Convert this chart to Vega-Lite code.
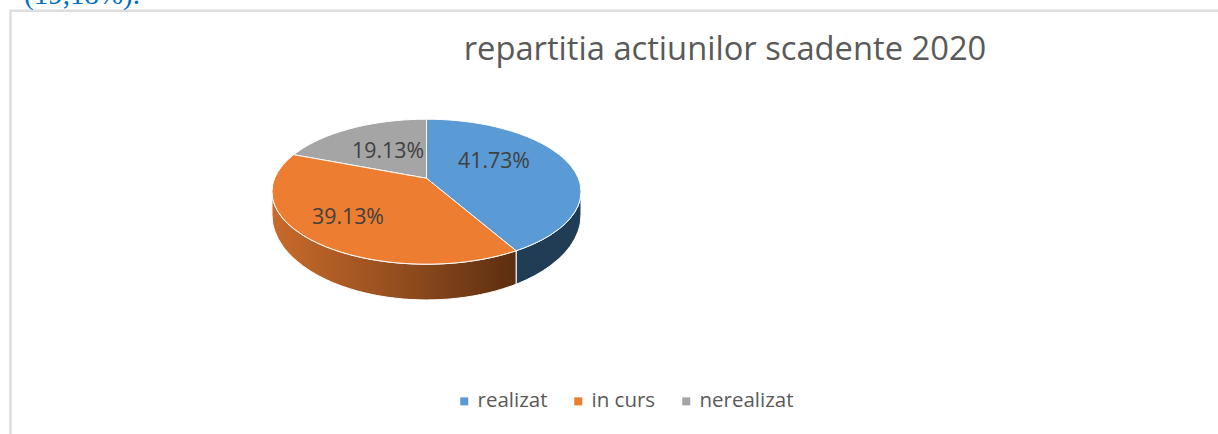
{"$schema":"https://vega.github.io/schema/vega-lite/v6.json","width":1218,"height":434,"padding":0,"autosize":"none","background":"white","config":{"view":{"stroke":null},"font":"Open Sans"},"layer":[
{"data":{"values":[{"a":-2.693,"a2":5.4,"b":2.497,"b2":-3.6}]},"mark":{"type":"rect","fill":null,"stroke":"#dedede","strokeWidth":2.5},"encoding":{"x":{"field":"a","type":"quantitative","scale":{"domain":[-2.7605,5.123],"nice":false,"zero":false},"axis":null},"x2":{"field":"a2"},"y":{"field":"b","type":"quantitative","scale":{"domain":[-3.342,2.644],"nice":false,"zero":false},"axis":null},"y2":{"field":"b2"}}},
{"data":{"values":[{"x":0.58,"t":-0.8146,"b":-1.276},{"x":0.6,"t":-0.8,"b":-1.259},{"x":0.65,"t":-0.7599,"b":-1.212},{"x":0.7,"t":-0.7141,"b":-1.158},{"x":0.75,"t":-0.6614,"b":-1.096},{"x":0.8,"t":-0.6,"b":-1.024},{"x":0.86,"t":-0.5103,"b":-0.919},{"x":0.9,"t":-0.4359,"b":-0.832},{"x":0.93,"t":-0.3676,"b":-0.752},{"x":0.96,"t":-0.28,"b":-0.649},{"x":0.98,"t":-0.199,"b":-0.554},{"x":0.99,"t":-0.1411,"b":-0.486},{"x":0.995,"t":-0.0999,"b":-0.438},{"x":1,"t":0,"b":-0.321}]},"mark":{"type":"area","orient":"vertical","color":"#213d56","stroke":"white","strokeWidth":1},"encoding":{"x":{"field":"x","type":"quantitative"},"y":{"field":"t","type":"quantitative"},"y2":{"field":"b"}}},
{"data":{"values":[{"x":-1,"t":0,"b":-0.321},{"x":-0.995,"t":-0.0999,"b":-0.438},{"x":-0.99,"t":-0.1411,"b":-0.486},{"x":-0.98,"t":-0.199,"b":-0.554},{"x":-0.96,"t":-0.28,"b":-0.649},{"x":-0.93,"t":-0.3676,"b":-0.752},{"x":-0.9,"t":-0.4359,"b":-0.832},{"x":-0.86,"t":-0.5103,"b":-0.919},{"x":-0.8,"t":-0.6,"b":-1.024},{"x":-0.75,"t":-0.6614,"b":-1.096},{"x":-0.7,"t":-0.7141,"b":-1.158},{"x":-0.65,"t":-0.7599,"b":-1.212},{"x":-0.6,"t":-0.8,"b":-1.259},{"x":-0.55,"t":-0.8352,"b":-1.3},{"x":-0.5,"t":-0.866,"b":-1.336},{"x":-0.45,"t":-0.893,"b":-1.368},{"x":-0.4,"t":-0.9165,"b":-1.395},{"x":-0.35,"t":-0.9367,"b":-1.419},{"x":-0.3,"t":-0.9539,"b":-1.439},{"x":-0.25,"t":-0.9682,"b":-1.456},{"x":-0.2,"t":-0.9798,"b":-1.469},{"x":-0.15,"t":-0.9887,"b":-1.48},{"x":-0.1,"t":-0.995,"b":-1.487},{"x":-0.05,"t":-0.9987,"b":-1.491},{"x":0,"t":-1,"b":-1.493},{"x":0.05,"t":-0.9987,"b":-1.491},{"x":0.1,"t":-0.995,"b":-1.487},{"x":0.15,"t":-0.9887,"b":-1.48},{"x":0.2,"t":-0.9798,"b":-1.469},{"x":0.25,"t":-0.9682,"b":-1.456},{"x":0.3,"t":-0.9539,"b":-1.439},{"x":0.35,"t":-0.9367,"b":-1.419},{"x":0.4,"t":-0.9165,"b":-1.395},{"x":0.45,"t":-0.893,"b":-1.368},{"x":0.5,"t":-0.866,"b":-1.336},{"x":0.55,"t":-0.8352,"b":-1.3},{"x":0.58,"t":-0.8146,"b":-1.276}]},"mark":{"type":"area","orient":"vertical","stroke":"white","strokeWidth":1,"color":{"x1":0,"y1":0,"x2":1,"y2":0,"gradient":"linear","stops":[{"offset":0,"color":"#c96a2b"},{"offset":0.5,"color":"#964f1f"},{"offset":1,"color":"#5c2e10"}]}},"encoding":{"x":{"field":"x","type":"quantitative"},"y":{"field":"t","type":"quantitative"},"y2":{"field":"b"}}},
{"data":{"values":[
{"slice":"nerealizat","x":-0.86,"t":0.5103,"b":0.5103},{"slice":"nerealizat","x":-0.8,"t":0.6,"b":0.4876},{"slice":"nerealizat","x":-0.75,"t":0.6614,"b":0.4687},{"slice":"nerealizat","x":-0.7,"t":0.7141,"b":0.4498},{"slice":"nerealizat","x":-0.65,"t":0.7599,"b":0.4309},{"slice":"nerealizat","x":-0.6,"t":0.8,"b":0.412},{"slice":"nerealizat","x":-0.55,"t":0.8352,"b":0.3931},{"slice":"nerealizat","x":-0.5,"t":0.866,"b":0.3742},{"slice":"nerealizat","x":-0.45,"t":0.893,"b":0.3552},{"slice":"nerealizat","x":-0.4,"t":0.9165,"b":0.3363},{"slice":"nerealizat","x":-0.35,"t":0.9367,"b":0.3174},{"slice":"nerealizat","x":-0.3,"t":0.9539,"b":0.2985},{"slice":"nerealizat","x":-0.25,"t":0.9682,"b":0.2796},{"slice":"nerealizat","x":-0.2,"t":0.9798,"b":0.2607},{"slice":"nerealizat","x":-0.15,"t":0.9887,"b":0.2417},{"slice":"nerealizat","x":-0.1,"t":0.995,"b":0.2228},{"slice":"nerealizat","x":-0.05,"t":0.9987,"b":0.2039},{"slice":"nerealizat","x":0,"t":1,"b":0.185},
{"slice":"realizat","x":0,"t":1,"b":0.185},{"slice":"realizat","x":0.05,"t":0.9987,"b":0.0988},{"slice":"realizat","x":0.1,"t":0.995,"b":0.0127},{"slice":"realizat","x":0.15,"t":0.9887,"b":-0.0735},{"slice":"realizat","x":0.2,"t":0.9798,"b":-0.1597},{"slice":"realizat","x":0.25,"t":0.9682,"b":-0.2459},{"slice":"realizat","x":0.3,"t":0.9539,"b":-0.332},{"slice":"realizat","x":0.35,"t":0.9367,"b":-0.4182},{"slice":"realizat","x":0.4,"t":0.9165,"b":-0.5044},{"slice":"realizat","x":0.45,"t":0.893,"b":-0.5905},{"slice":"realizat","x":0.5,"t":0.866,"b":-0.6767},{"slice":"realizat","x":0.55,"t":0.8352,"b":-0.7629},{"slice":"realizat","x":0.58,"t":0.8146,"b":-0.8146},{"slice":"realizat","x":0.6,"t":0.8,"b":-0.8},{"slice":"realizat","x":0.65,"t":0.7599,"b":-0.7599},{"slice":"realizat","x":0.7,"t":0.7141,"b":-0.7141},{"slice":"realizat","x":0.75,"t":0.6614,"b":-0.6614},{"slice":"realizat","x":0.8,"t":0.6,"b":-0.6},{"slice":"realizat","x":0.86,"t":0.5103,"b":-0.5103},{"slice":"realizat","x":0.9,"t":0.4359,"b":-0.4359},{"slice":"realizat","x":0.93,"t":0.3676,"b":-0.3676},{"slice":"realizat","x":0.96,"t":0.28,"b":-0.28},{"slice":"realizat","x":0.98,"t":0.199,"b":-0.199},{"slice":"realizat","x":0.99,"t":0.1411,"b":-0.1411},{"slice":"realizat","x":0.995,"t":0.0999,"b":-0.0999},{"slice":"realizat","x":1,"t":0,"b":0},
{"slice":"in curs","x":-1,"t":0,"b":0},{"slice":"in curs","x":-0.995,"t":0.0999,"b":-0.0999},{"slice":"in curs","x":-0.99,"t":0.1411,"b":-0.1411},{"slice":"in curs","x":-0.98,"t":0.199,"b":-0.199},{"slice":"in curs","x":-0.96,"t":0.28,"b":-0.28},{"slice":"in curs","x":-0.93,"t":0.3676,"b":-0.3676},{"slice":"in curs","x":-0.9,"t":0.4359,"b":-0.4359},{"slice":"in curs","x":-0.86,"t":0.5103,"b":-0.5103},{"slice":"in curs","x":-0.8,"t":0.4876,"b":-0.6},{"slice":"in curs","x":-0.75,"t":0.4687,"b":-0.6614},{"slice":"in curs","x":-0.7,"t":0.4498,"b":-0.7141},{"slice":"in curs","x":-0.65,"t":0.4309,"b":-0.7599},{"slice":"in curs","x":-0.6,"t":0.412,"b":-0.8},{"slice":"in curs","x":-0.55,"t":0.3931,"b":-0.8352},{"slice":"in curs","x":-0.5,"t":0.3742,"b":-0.866},{"slice":"in curs","x":-0.45,"t":0.3552,"b":-0.893},{"slice":"in curs","x":-0.4,"t":0.3363,"b":-0.9165},{"slice":"in curs","x":-0.35,"t":0.3174,"b":-0.9367},{"slice":"in curs","x":-0.3,"t":0.2985,"b":-0.9539},{"slice":"in curs","x":-0.25,"t":0.2796,"b":-0.9682},{"slice":"in curs","x":-0.2,"t":0.2607,"b":-0.9798},{"slice":"in curs","x":-0.15,"t":0.2417,"b":-0.9887},{"slice":"in curs","x":-0.1,"t":0.2228,"b":-0.995},{"slice":"in curs","x":-0.05,"t":0.2039,"b":-0.9987},{"slice":"in curs","x":0,"t":0.185,"b":-1},{"slice":"in curs","x":0.05,"t":0.0988,"b":-0.9987},{"slice":"in curs","x":0.1,"t":0.0127,"b":-0.995},{"slice":"in curs","x":0.15,"t":-0.0735,"b":-0.9887},{"slice":"in curs","x":0.2,"t":-0.1597,"b":-0.9798},{"slice":"in curs","x":0.25,"t":-0.2459,"b":-0.9682},{"slice":"in curs","x":0.3,"t":-0.332,"b":-0.9539},{"slice":"in curs","x":0.35,"t":-0.4182,"b":-0.9367},{"slice":"in curs","x":0.4,"t":-0.5044,"b":-0.9165},{"slice":"in curs","x":0.45,"t":-0.5905,"b":-0.893},{"slice":"in curs","x":0.5,"t":-0.6767,"b":-0.866},{"slice":"in curs","x":0.55,"t":-0.7629,"b":-0.8352},{"slice":"in curs","x":0.58,"t":-0.8146,"b":-0.8146}
]},"mark":{"type":"area","orient":"vertical","stroke":"white","strokeWidth":1},"encoding":{"x":{"field":"x","type":"quantitative"},"y":{"field":"t","type":"quantitative"},"y2":{"field":"b"},"color":{"field":"slice","type":"nominal","scale":{"domain":["realizat","in curs","nerealizat"],"range":["#5b9bd5","#ed7d31","#a5a5a5"]},"legend":{"title":null,"orient":"none","legendX":454,"legendY":391,"direction":"horizontal","columns":3,"columnPadding":20,"symbolType":"square","symbolSize":64,"symbolStrokeWidth":0,"labelFont":"Open Sans","labelFontSize":20.5,"labelColor":"#595959","labelOffset":3}}}},
{"data":{"values":[{"label":"41.73%","x":0.437,"y":0.41},{"label":"39.13%","x":-0.508,"y":-0.363},{"label":"19.13%","x":-0.249,"y":0.548}]},"mark":{"type":"text","font":"Open Sans","fontSize":21.3,"color":"#404040","align":"center","baseline":"middle"},"encoding":{"x":{"field":"x","type":"quantitative"},"y":{"field":"y","type":"quantitative"},"text":{"field":"label"}}},
{"data":{"values":[{"label":"repartitia actiunilor scadente 2020","x":1.932,"y":1.954}]},"mark":{"type":"text","font":"Open Sans","fontSize":32.7,"color":"#595959","align":"center","baseline":"middle"},"encoding":{"x":{"field":"x","type":"quantitative"},"y":{"field":"y","type":"quantitative"},"text":{"field":"label"}}},
{"data":{"values":[{"label":"(19,18%).","x":-2.605,"y":2.59}]},"mark":{"type":"text","font":"Liberation Serif","fontSize":29,"color":"#0070c0","align":"left","baseline":"alphabetic"},"encoding":{"x":{"field":"x","type":"quantitative"},"y":{"field":"y","type":"quantitative"},"text":{"field":"label"}}}
]}
